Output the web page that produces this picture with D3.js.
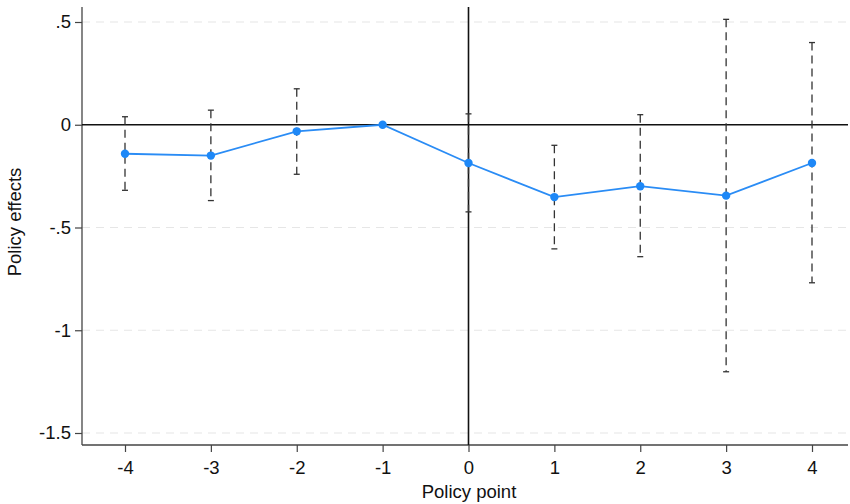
<!DOCTYPE html>
<html><head><meta charset="utf-8">
<script src="https://cdn.jsdelivr.net/npm/d3@7"></script>
<style>body{margin:0;background:#fff}svg{display:block;font-family:"Liberation Sans",Arial,sans-serif}</style>
</head><body><svg id="c" width="850" height="504"></svg>
<script>
const periods = [-4,-3,-2,-1,0,1,2,3,4];
const estimates = [-0.141,-0.150,-0.032,0,-0.186,-0.352,-0.299,-0.345,-0.186];
const ciLower = [-0.319,-0.369,-0.241,null,-0.424,-0.604,-0.642,-1.202,-0.769];
const ciUpper = [0.039,0.071,0.175,null,0.053,-0.100,0.049,0.513,0.400];
const yTicks = [0.5,0,-0.5,-1,-1.5];
const yTickLabels = [".5","0","-.5","-1","-1.5"];
const xTicks = [-4,-3,-2,-1,0,1,2,3,4];

(function(){
const svg = d3.select("#c");
const pl=82, pr=848, pt=7, pb=445;
const fs=18.5;
const x = d3.scaleLinear().domain([-4,4]).range([125,812]);
const y = d3.scaleLinear().domain([0.5,-1.5]).range([22,433]);

// gridlines
svg.append("g").selectAll("line").data(yTicks.filter(d=>d!==0)).join("line")
  .attr("x1",pl).attr("x2",pr).attr("y1",d=>y(d)).attr("y2",d=>y(d))
  .attr("stroke","#e6e6e6").attr("stroke-width",1.2).attr("stroke-dasharray","8,6");

// y axis
const ya = svg.append("g").attr("transform",`translate(${pl},0)`)
  .call(d3.axisLeft(y).tickValues(yTicks).tickFormat((d,i)=>yTickLabels[i]).tickSize(7).tickPadding(4));
ya.select(".domain").attr("d",`M0,${pt}V${pb}`).attr("stroke","#444").attr("stroke-width",1.3);
ya.selectAll(".tick line").attr("stroke","#444").attr("stroke-width",1.2);
ya.selectAll("text").attr("font-size",fs).attr("fill","#111");

// x axis
const xa = svg.append("g").attr("transform",`translate(0,${pb})`)
  .call(d3.axisBottom(x).tickValues(xTicks).tickFormat(d=>String(d)).tickSize(7).tickPadding(9));
xa.select(".domain").attr("d",`M${pl},0H${pr}`).attr("stroke","#444").attr("stroke-width",1.3);
xa.selectAll(".tick line").attr("stroke","#444").attr("stroke-width",1.2);
xa.selectAll("text").attr("font-size",fs).attr("fill","#111");

// reference lines
svg.append("line").attr("x1",pl).attr("x2",pr).attr("y1",y(0)).attr("y2",y(0))
  .attr("stroke","#111").attr("stroke-width",1.6);
svg.append("line").attr("x1",x(0)).attr("x2",x(0)).attr("y1",pt).attr("y2",pb)
  .attr("stroke","#111").attr("stroke-width",1.6);

// error bars
const ci = periods.map((p,i)=>({p,lo:ciLower[i],hi:ciUpper[i]})).filter(d=>d.lo!==null);
const eb = svg.append("g").attr("stroke","#333").attr("stroke-width",1.3);
eb.selectAll(".v").data(ci).join("line")
  .attr("x1",d=>x(d.p)).attr("x2",d=>x(d.p)).attr("y1",d=>y(d.hi)).attr("y2",d=>y(d.lo))
  .attr("stroke-dasharray","8,5");
eb.selectAll(".ch").data(ci).join("line")
  .attr("x1",d=>x(d.p)-3).attr("x2",d=>x(d.p)+3).attr("y1",d=>y(d.hi)).attr("y2",d=>y(d.hi));
eb.selectAll(".cl").data(ci).join("line")
  .attr("x1",d=>x(d.p)-3).attr("x2",d=>x(d.p)+3).attr("y1",d=>y(d.lo)).attr("y2",d=>y(d.lo));

// line and points
const pts = periods.map((p,i)=>({p,v:estimates[i]}));
svg.append("path").datum(pts)
  .attr("d",d3.line().x(d=>x(d.p)).y(d=>y(d.v)))
  .attr("fill","none").attr("stroke","#2a8cf5").attr("stroke-width",1.8);
svg.append("g").selectAll("circle").data(pts).join("circle")
  .attr("cx",d=>x(d.p)).attr("cy",d=>y(d.v)).attr("r",4.2).attr("fill","#1e88f7");

// titles
svg.append("text").attr("x",469).attr("y",498).attr("text-anchor","middle")
  .attr("font-size",fs).attr("fill","#111").text("Policy point");
svg.append("text").attr("transform",`translate(21,222) rotate(-90)`).attr("text-anchor","middle")
  .attr("font-size",fs).attr("fill","#111").text("Policy effects");
})();
</script></body></html>
